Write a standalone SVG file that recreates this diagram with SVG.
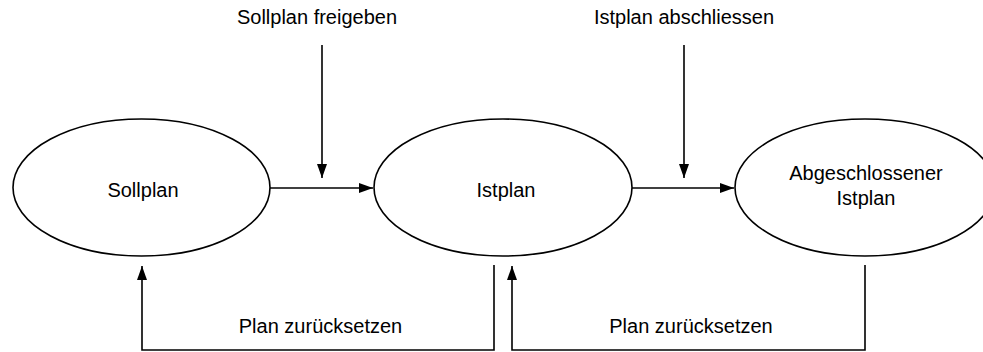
<svg xmlns="http://www.w3.org/2000/svg" width="983" height="352" viewBox="0 0 983 352">
<style>
.node ellipse{fill:#fff;stroke:#000;stroke-width:1.6}
text{font-family:"Liberation Sans",Arial,sans-serif;font-size:20px;fill:#000;text-anchor:middle}
.conn path{fill:none;stroke:#000;stroke-width:1.6}
</style>
<defs>
<marker id="ah" markerUnits="userSpaceOnUse" markerWidth="15" markerHeight="10" refX="14" refY="5" orient="auto">
<path d="M0,0 L14,5 L0,10 Z" fill="#000"/>
</marker>
</defs>
<rect width="983" height="352" fill="#fff"/>
<g id="sollplan" class="node">
<ellipse cx="141.5" cy="187.5" rx="128.5" ry="68.5"/>
<text x="143" y="197">Sollplan</text>
</g>
<g id="istplan" class="node">
<ellipse cx="503" cy="187.5" rx="129" ry="68.5"/>
<text x="506" y="197">Istplan</text>
</g>
<g id="abgeschlossener-istplan" class="node">
<ellipse cx="865" cy="187.5" rx="130" ry="68.5"/>
<text x="866" y="180">Abgeschlossener</text>
<text x="866" y="205">Istplan</text>
</g>
<g id="connectors" class="conn">
<path d="M270,188 H373" marker-end="url(#ah)"/>
<path d="M322,45 V178" marker-end="url(#ah)"/>
<path d="M632,188 H734" marker-end="url(#ah)"/>
<path d="M684,45 V178" marker-end="url(#ah)"/>
<path d="M494,265 V350 H142 V266" marker-end="url(#ah)"/>
<path d="M865,265 V350 H512 V266" marker-end="url(#ah)"/>
</g>
<g id="labels">
<text x="317" y="24">Sollplan freigeben</text>
<text x="684" y="24">Istplan abschliessen</text>
<text x="320.5" y="333">Plan zurücksetzen</text>
<text x="691" y="333">Plan zurücksetzen</text>
</g>
</svg>
